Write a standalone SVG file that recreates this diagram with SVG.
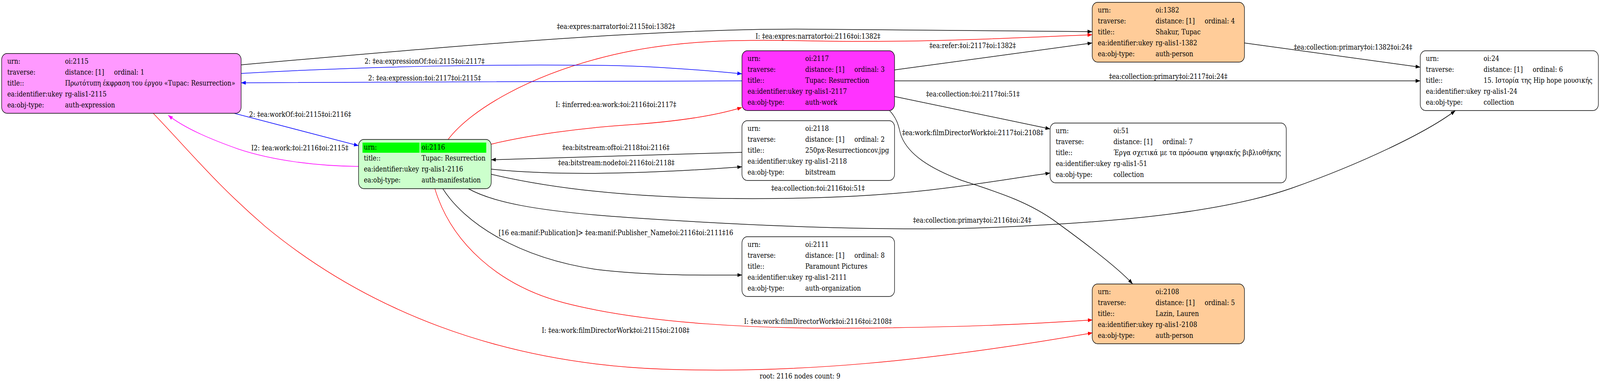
<svg xmlns="http://www.w3.org/2000/svg" width="4824" height="983" viewBox="0 0 4824 983">
<style>
text{font-family:"DejaVu Serif","Liberation Serif",serif;font-size:18.67px;fill:#000}
.lbl{text-anchor:middle}
.st{text-anchor:start}
.box{stroke:#000;stroke-width:1.5}
.e{fill:none;stroke-width:1.5}
.k{stroke:#000}
.b{stroke:#0000ff}
.r{stroke:#ff0000}
.m{stroke:#ff00ff}
</style>
<defs>
<marker id="ak" viewBox="0 0 14 10" refX="14" refY="5" markerWidth="14" markerHeight="10" markerUnits="userSpaceOnUse" orient="auto"><path d="M0,0 L14,5 L0,10 z" fill="#000"/></marker>
<marker id="ab" viewBox="0 0 14 10" refX="14" refY="5" markerWidth="14" markerHeight="10" markerUnits="userSpaceOnUse" orient="auto"><path d="M0,0 L14,5 L0,10 z" fill="#0000ff"/></marker>
<marker id="ar" viewBox="0 0 14 10" refX="14" refY="5" markerWidth="14" markerHeight="10" markerUnits="userSpaceOnUse" orient="auto"><path d="M0,0 L14,5 L0,10 z" fill="#ff0000"/></marker>
<marker id="am" viewBox="0 0 14 10" refX="14" refY="5" markerWidth="14" markerHeight="10" markerUnits="userSpaceOnUse" orient="auto"><path d="M0,0 L14,5 L0,10 z" fill="#ff00ff"/></marker>
</defs>
<rect width="4824" height="983" fill="#fff"/>
<g id="graph" transform="scale(0.8491 1)">
<g id="connectors">
<path class="e k" marker-end="url(#ak)" d="M727,166 C1100,138 1500,108 1857,90 C2150,76 2350,73 2480,75 C2800,78 3100,80 3293,81"/>
<path class="e r" marker-end="url(#ar)" d="M1351,357 C1420,280 1600,190 1850,140 C2050,100 2250,101 2466,105 C2800,110 3100,95 3293,89"/>
<path class="e k" marker-end="url(#ak)" d="M2697,179 L3293,110"/>
<path class="e b" marker-end="url(#ab)" d="M727,188 C1100,170 1500,163 1860,168 C2000,171 2150,182 2237,189"/>
<path class="e b" marker-end="url(#ab)" d="M2237,207 C1800,208 1200,210 727,212"/>
<path class="e k" marker-end="url(#ak)" d="M3752,110 L4282,172"/>
<path class="e k" marker-end="url(#ak)" d="M2697,207 L4282,207"/>
<path class="e k" marker-end="url(#ak)" d="M2697,247 L3166,330"/>
<path class="e r" marker-end="url(#ar)" d="M1481,369 C1600,345 1750,328 1888,320 C2030,312 2150,298 2237,275"/>
<path class="e b" marker-end="url(#ab)" d="M706,290 L1081,373"/>
<path class="e k" marker-end="url(#ak)" d="M2682,283 C2712,310 2710,335 2718,350 C2740,395 2800,430 2900,462 C3000,490 3100,515 3187,570 C3260,615 3370,685 3415,727"/>
<path class="e k" marker-end="url(#ak)" d="M2237,390 L1481,409"/>
<path class="e m" marker-end="url(#am)" d="M1081,426 C950,425 820,410 720,382 C640,358 560,330 507,295"/>
<path class="e k" marker-end="url(#ak)" d="M1481,433 C1650,448 1900,448 2237,427"/>
<path class="e k" marker-end="url(#ak)" d="M1481,446 C1750,500 2100,515 2466,506 C2800,498 3000,462 3166,443"/>
<path class="e k" marker-end="url(#ak)" d="M1412,483 C1480,515 1600,540 1897,557 C2300,580 2700,592 3000,582 C3400,568 3700,540 3900,480 C4100,420 4300,340 4388,283"/>
<path class="e k" marker-end="url(#ak)" d="M1335,483 C1400,570 1560,660 1800,690 C1950,705 2100,705 2237,704"/>
<path class="e r" marker-end="url(#ar)" d="M1311,483 C1360,620 1500,730 1700,775 C1950,830 2300,842 2571,840 C2900,838 3100,830 3294,819"/>
<path class="e r" marker-end="url(#ar)" d="M462,290 C580,395 650,470 800,580 C1100,790 1500,930 2000,945 C2400,957 2800,925 3294,852"/>
<text class="lbl" x="1857" y="74">‡ea:expres:narrator‡oi:2115‡oi:1382‡</text>
<text class="lbl" x="2466" y="99">I: ‡ea:expres:narrator‡oi:2116‡oi:1382‡</text>
<text class="st" x="2802" y="123">‡ea:refer:‡oi:2117‡oi:1382‡</text>
<text class="lbl" x="1280" y="163">2: ‡ea:expressionOf:‡oi:2115‡oi:2117‡</text>
<text class="lbl" x="1280" y="206">2: ‡ea:expression:‡oi:2117‡oi:2115‡</text>
<text class="st" x="3901" y="127">‡ea:collection:primary‡oi:1382‡oi:24‡</text>
<text class="lbl" x="3522" y="202">‡ea:collection:primary‡oi:2117‡oi:24‡</text>
<text class="st" x="2792" y="247">‡ea:collection:‡oi:2117‡oi:51‡</text>
<text class="lbl" x="1857" y="274">I: ‡inferred:ea:work:‡oi:2116‡oi:2117‡</text>
<text class="lbl" x="905" y="299">2: ‡ea:workOf:‡oi:2115‡oi:2116‡</text>
<text class="st" x="2720" y="346">‡ea:work:filmDirectorWork‡oi:2117‡oi:2108‡</text>
<text class="lbl" x="1857" y="384">‡ea:bitstream:of‡oi:2118‡oi:2116‡</text>
<text class="lbl" x="904" y="385">I2: ‡ea:work:‡oi:2116‡oi:2115‡</text>
<text class="lbl" x="1858" y="423">‡ea:bitstream:node‡oi:2116‡oi:2118‡</text>
<text class="lbl" x="2466" y="488">‡ea:collection:‡oi:2116‡oi:51‡</text>
<text class="lbl" x="2931" y="570">‡ea:collection:primary‡oi:2116‡oi:24‡</text>
<text class="lbl" x="1857" y="602">[16 ea:manif:Publication]&gt; ‡ea:manif:Publisher_Name‡oi:2116‡oi:2111‡16</text>
<text class="lbl" x="2466" y="829">I: ‡ea:work:filmDirectorWork‡oi:2116‡oi:2108‡</text>
<text class="lbl" x="1856" y="852">I: ‡ea:work:filmDirectorWork‡oi:2115‡oi:2108‡</text>
</g>
<g id="n2115" transform="translate(5,137)">
<rect class="box" width="722" height="153" rx="16" fill="#ff99ff"/>
<text x="17" y="26">urn:</text><text x="191" y="26">oi:2115</text>
<text x="17" y="54">traverse:</text><text x="191" y="54">distance: [1]</text><text x="339" y="54">ordinal: 1</text>
<text x="17" y="82">title::</text><text x="191" y="82" textLength="513" lengthAdjust="spacingAndGlyphs">Πρωτότυπη έκφραση του έργου «Tupac: Resurrection»</text>
<text x="17" y="110">ea:identifier:ukey</text><text x="191" y="110">rg-alis1-2115</text>
<text x="17" y="138">ea:obj-type:</text><text x="191" y="138">auth-expression</text>
</g>
<g id="n2116" transform="translate(1081,357)">
<rect class="box" width="400" height="126" rx="16" fill="#ccffcc"/>
<rect x="12" y="8" width="172" height="26" fill="#00ff00"/>
<rect x="187" y="8" width="198" height="26" fill="#00ff00"/>
<text x="16" y="26">urn:</text><text x="190" y="26">oi:2116</text>
<text x="16" y="54">title::</text><text x="190" y="54">Tupac: Resurrection</text>
<text x="16" y="82">ea:identifier:ukey</text><text x="190" y="82">rg-alis1-2116</text>
<text x="16" y="110">ea:obj-type:</text><text x="190" y="110">auth-manifestation</text>
</g>
<g id="n2117" transform="translate(2237,130)">
<rect class="box" width="460" height="153" rx="16" fill="#ff33ff"/>
<text x="17" y="26">urn:</text><text x="191" y="26">oi:2117</text>
<text x="17" y="54">traverse:</text><text x="191" y="54">distance: [1]</text><text x="339" y="54">ordinal: 3</text>
<text x="17" y="82">title::</text><text x="191" y="82">Tupac: Resurrection</text>
<text x="17" y="110">ea:identifier:ukey</text><text x="191" y="110">rg-alis1-2117</text>
<text x="17" y="138">ea:obj-type:</text><text x="191" y="138">auth-work</text>
</g>
<g id="n2118" transform="translate(2237,309)">
<rect class="box" width="460" height="153" rx="16" fill="#fff"/>
<text x="17" y="26">urn:</text><text x="191" y="26">oi:2118</text>
<text x="17" y="54">traverse:</text><text x="191" y="54">distance: [1]</text><text x="339" y="54">ordinal: 2</text>
<text x="17" y="82">title::</text><text x="191" y="82">250px-Resurrectioncov.jpg</text>
<text x="17" y="110">ea:identifier:ukey</text><text x="191" y="110">rg-alis1-2118</text>
<text x="17" y="138">ea:obj-type:</text><text x="191" y="138">bitstream</text>
</g>
<g id="n2111" transform="translate(2237,606)">
<rect class="box" width="460" height="153" rx="16" fill="#fff"/>
<text x="17" y="26">urn:</text><text x="191" y="26">oi:2111</text>
<text x="17" y="54">traverse:</text><text x="191" y="54">distance: [1]</text><text x="339" y="54">ordinal: 8</text>
<text x="17" y="82">title::</text><text x="191" y="82">Paramount Pictures</text>
<text x="17" y="110">ea:identifier:ukey</text><text x="191" y="110">rg-alis1-2111</text>
<text x="17" y="138">ea:obj-type:</text><text x="191" y="138">auth-organization</text>
</g>
<g id="n1382" transform="translate(3293,6)">
<rect class="box" width="459" height="153" rx="16" fill="#ffcc99"/>
<text x="17" y="26">urn:</text><text x="191" y="26">oi:1382</text>
<text x="17" y="54">traverse:</text><text x="191" y="54">distance: [1]</text><text x="339" y="54">ordinal: 4</text>
<text x="17" y="82">title::</text><text x="191" y="82">Shakur, Tupac</text>
<text x="17" y="110">ea:identifier:ukey</text><text x="191" y="110">rg-alis1-1382</text>
<text x="17" y="138">ea:obj-type:</text><text x="191" y="138">auth-person</text>
</g>
<g id="n2108" transform="translate(3293,727)">
<rect class="box" width="459" height="153" rx="16" fill="#ffcc99"/>
<text x="17" y="26">urn:</text><text x="191" y="26">oi:2108</text>
<text x="17" y="54">traverse:</text><text x="191" y="54">distance: [1]</text><text x="339" y="54">ordinal: 5</text>
<text x="17" y="82">title::</text><text x="191" y="82">Lazin, Lauren</text>
<text x="17" y="110">ea:identifier:ukey</text><text x="191" y="110">rg-alis1-2108</text>
<text x="17" y="138">ea:obj-type:</text><text x="191" y="138">auth-person</text>
</g>
<g id="n51" transform="translate(3166,315)">
<rect class="box" width="712" height="153" rx="16" fill="#fff"/>
<text x="17" y="26">urn:</text><text x="191" y="26">oi:51</text>
<text x="17" y="54">traverse:</text><text x="191" y="54">distance: [1]</text><text x="339" y="54">ordinal: 7</text>
<text x="17" y="82">title::</text><text x="191" y="82" textLength="505" lengthAdjust="spacingAndGlyphs">Έργα σχετικά με τα πρόσωπα ψηφιακής βιβλιοθήκης</text>
<text x="17" y="110">ea:identifier:ukey</text><text x="191" y="110">rg-alis1-51</text>
<text x="17" y="138">ea:obj-type:</text><text x="191" y="138">collection</text>
</g>
<g id="n24" transform="translate(4282,130)">
<rect class="box" width="537" height="153" rx="16" fill="#fff"/>
<text x="17" y="26">urn:</text><text x="191" y="26">oi:24</text>
<text x="17" y="54">traverse:</text><text x="191" y="54">distance: [1]</text><text x="339" y="54">ordinal: 6</text>
<text x="17" y="82">title::</text><text x="191" y="82" textLength="328" lengthAdjust="spacingAndGlyphs">15. Ιστορία της Hip hope μουσικής</text>
<text x="17" y="110">ea:identifier:ukey</text><text x="191" y="110">rg-alis1-24</text>
<text x="17" y="138">ea:obj-type:</text><text x="191" y="138">collection</text>
</g>
<text class="lbl" x="2412" y="969">root: 2116 nodes count: 9</text>
</g>
</svg>
